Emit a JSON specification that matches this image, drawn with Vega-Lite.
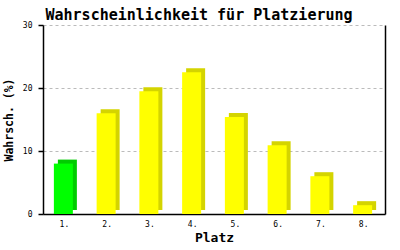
{
  "$schema": "https://vega.github.io/schema/vega-lite/v6.json",
  "width": 342,
  "height": 189,
  "autosize": "none",
  "padding": {"left": 43, "top": 25, "right": 15, "bottom": 36},
  "background": "white",
  "config": {
    "view": {"stroke": null},
    "font": "DejaVu Sans Mono"
  },
  "title": {
    "text": "Wahrscheinlichkeit für Platzierung",
    "font": "DejaVu Sans Mono",
    "fontSize": 15,
    "fontWeight": "bold",
    "color": "black",
    "anchor": "middle",
    "dx": -15,
    "offset": -2
  },
  "data": {
    "values": [
      {"Platz": "1.", "Wert": 8.0},
      {"Platz": "2.", "Wert": 16.0},
      {"Platz": "3.", "Wert": 19.5},
      {"Platz": "4.", "Wert": 22.5},
      {"Platz": "5.", "Wert": 15.4},
      {"Platz": "6.", "Wert": 10.9},
      {"Platz": "7.", "Wert": 6.0},
      {"Platz": "8.", "Wert": 1.4}
    ]
  },
  "layer": [
    {
      "mark": {"type": "bar", "width": 19, "xOffset": 3, "yOffset": -4},
      "encoding": {
        "x": {
          "field": "Platz", "type": "ordinal", "sort": null,
          "axis": {
            "title": "Platz", "titleFont": "DejaVu Sans Mono", "titleFontSize": 13, "titleFontWeight": "bold", "titleColor": "black", "titlePadding": 3,
            "labelAngle": 0, "labelFont": "DejaVu Sans Mono", "labelFontSize": 8, "labelColor": "black", "labelPadding": 6,
            "ticks": false, "domainColor": "black", "domainWidth": 1.5
          }
        },
        "y": {
          "field": "Wert", "type": "quantitative",
          "scale": {"domain": [0, 30], "nice": false},
          "axis": {
            "title": "Wahrsch. (%)", "titleFont": "DejaVu Sans Mono", "titleFontSize": 11.5, "titleFontWeight": "bold", "titleColor": "black", "titlePadding": 8,
            "values": [0, 10, 20, 30],
            "labelFont": "DejaVu Sans Mono", "labelFontSize": 8, "labelColor": "black", "labelPadding": 6,
            "tickSize": 5, "tickColor": "black", "tickWidth": 1.5, "domainColor": "black", "domainWidth": 1.5,
            "grid": true, "gridColor": "#bbbbbb", "gridDash": [3, 3], "gridWidth": 1
          }
        },
        "color": {
          "condition": {"test": "datum.Platz === '1.'", "value": "#00cc00"},
          "value": "#d4d400"
        }
      }
    },
    {
      "mark": {"type": "bar", "width": 19, "xOffset": -1},
      "encoding": {
        "x": {"field": "Platz", "type": "ordinal", "sort": null},
        "y": {
          "field": "Wert", "type": "quantitative",
          "axis": {"orient": "right", "title": null, "labels": false, "ticks": false, "grid": false, "domainColor": "black", "domainWidth": 1.5}
        },
        "color": {
          "condition": {"test": "datum.Platz === '1.'", "value": "#00ff00"},
          "value": "#ffff00"
        }
      }
    }
  ],
  "resolve": {"axis": {"y": "independent"}}
}
